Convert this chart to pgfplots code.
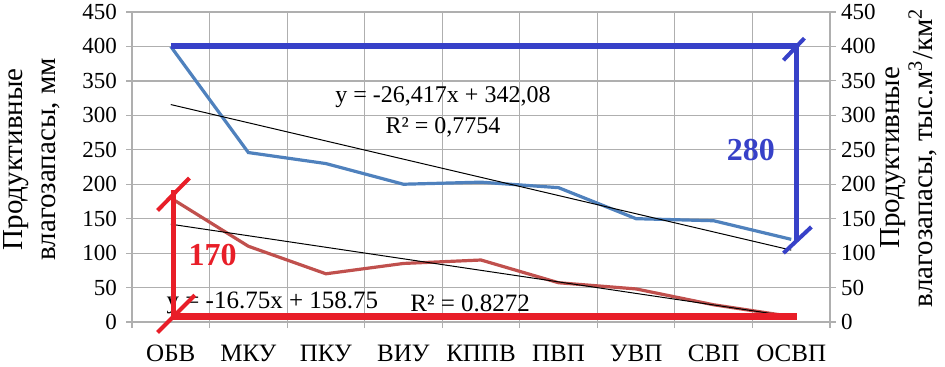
\documentclass[border=0pt]{standalone}
\usepackage{fontspec}
\setmainfont{Liberation Serif}
\usepackage{pgfplots}
\pgfplotsset{compat=1.18}
\definecolor{exblue}{RGB}{79,129,189}
\definecolor{exred}{RGB}{192,80,77}
\definecolor{annblue}{RGB}{55,65,200}
\definecolor{annred}{RGB}{232,30,40}
\definecolor{gridgray}{RGB}{175,175,175}
\begin{document}
\begin{tikzpicture}
\path[use as bounding box] (-66pt,-22pt) rectangle (406.5pt,161pt);
\begin{axis}[
  at={(0,0)}, anchor=south west,
  scale only axis, width=349pt, height=155pt,
  xmin=-0.5, xmax=8.5, ymin=0, ymax=450,
  xtick={0,...,8},
  xticklabels={ОБВ,МКУ,ПКУ,ВИУ,КППВ,ПВП,УВП,СВП,ОСВП},
  major x tick style={draw=none},
  minor xtick={-0.5,0.5,...,8.5},
  minor tick length=3pt,
  major tick length=3pt,
  tick align=outside,
  xminorgrids, ymajorgrids,
  grid style={gridgray, line width=0.6pt},
  minor grid style={gridgray, line width=0.6pt},
  ytick={0,50,...,450},
  yticklabels={0,50,100,150,200,250,300,350,400,450},
  axis y line*=left, axis x line*=bottom,
  axis line style={gridgray, line width=0.6pt},
  tick style={gridgray, line width=0.6pt},
  yticklabel style={font=\rmfamily\fontsize{11.5}{12}\selectfont, xshift=-1pt},
  xticklabel style={font=\rmfamily\fontsize{12.5}{13}\selectfont, yshift=-5pt},
  every axis y label/.style={at={(axis description cs:-0.103,0.525)}, anchor=south, rotate=90, align=center, inner sep=0pt, font=\fontsize{14.5}{16.5}\selectfont},
  ylabel={Продуктивные\\влагозапасы, мм},
  clip=false,
]
\addplot[exblue, line width=1.6pt] coordinates {(0,400) (1,246) (2,230) (3,200) (4,203) (5,195) (6,150) (7,147) (8,120)};
\addplot[exred, line width=1.6pt] coordinates {(0,180) (1,110) (2,70) (3,85) (4,90) (5,57) (6,48) (7,25) (8,8)};
\addplot[black, line width=0.5pt] coordinates {(0,315.66) (8,104.33)};
\addplot[black, line width=0.5pt] coordinates {(0,142) (8,8)};
\node[font=\fontsize{12}{14}\selectfont] at (axis cs:3.51,326.6) {y = -26,417x + 342,08};
\node[font=\fontsize{12}{14}\selectfont] at (axis cs:3.51,283) {R² = 0,7754};
\node[font=\fontsize{12.5}{14}\selectfont] at (axis cs:1.31,27.6) {y = -16.75x + 158.75};
\node[font=\fontsize{12.5}{14}\selectfont] at (axis cs:3.86,27.6) {R² = 0.8272};
\node[font=\fontsize{16}{18}\selectfont\bfseries, text=annred] at (axis cs:0.54,97) {170};
\node[font=\fontsize{16}{18}\selectfont\bfseries, text=annblue] at (axis cs:7.48,250) {280};
% annotations
\addplot[annblue, line width=3pt] coordinates {(0,400) (8.07,400)};
\addplot[annblue, line width=2.8pt] coordinates {(8.07,400) (8.07,117)};
\addplot[annblue, line width=2pt] coordinates {(7.9,380) (8.17,412)};
\addplot[annblue, line width=2pt] coordinates {(7.9,100) (8.26,138)};
\addplot[annred, line width=2.6pt] coordinates {(0.03,8) (0.03,192)};
\addplot[annred, line width=2pt] coordinates {(-0.17,162) (0.24,209)};
\addplot[annred, line width=2pt] coordinates {(-0.17,-15) (0.31,39)};
\addplot[annred, line width=3.5pt] coordinates {(0.03,8) (8.07,8)};
\end{axis}
\begin{axis}[
  at={(0,0)}, anchor=south west,
  scale only axis, width=349pt, height=155pt,
  xmin=-0.5, xmax=8.5, ymin=0, ymax=450,
  axis x line=none, axis y line*=right,
  ytick={0,50,...,450},
  yticklabels={0,50,100,150,200,250,300,350,400,450},
  major tick length=3pt,
  tick align=outside,
  axis line style={gridgray, line width=0.6pt},
  tick style={gridgray, line width=0.6pt},
  yticklabel style={font=\rmfamily\fontsize{11.5}{12}\selectfont, xshift=-1pt},
  every axis y label/.style={at={(axis description cs:1.0716,0.53)}, anchor=north, rotate=90, align=center, inner sep=0pt, font=\fontsize{14.5}{16.5}\selectfont},
  ylabel={Продуктивные\\влагозапасы, тыс.м\textsuperscript{3}/км\textsuperscript{2}},
]
\addplot[draw=none] coordinates {(0,0)};
\end{axis}
\end{tikzpicture}
\end{document}
